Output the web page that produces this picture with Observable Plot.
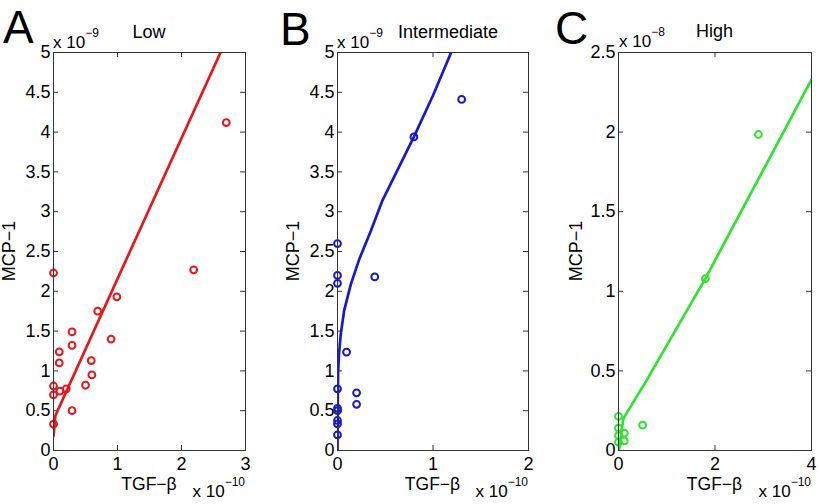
<!DOCTYPE html>
<html><head><meta charset="utf-8">
<script src="https://cdn.jsdelivr.net/npm/d3@7"></script>
<script src="https://cdn.jsdelivr.net/npm/@observablehq/plot@0.6"></script>
<style>
body{margin:0;background:#fff;}
#wrap{position:relative;width:820px;height:504px;overflow:hidden;font-family:"Liberation Sans",Arial,sans-serif;background:#fff;}
#wrap > svg{position:absolute;top:0;}
</style></head><body><div id="wrap"></div>
<script>
// Values in displayed units: TGF-beta in 1e-10, MCP-1 in 1e-9 (Low, Intermediate) and 1e-8 (High)
const panelTitles = ["Low", "Intermediate", "High"];
const panelLetters = ["A", "B", "C"];
const yExponents = ["−9", "−9", "−8"];
const xExponent = "−10";

const lowXTicks = [0, 1, 2, 3];
const lowYTicks = [0, 0.5, 1, 1.5, 2, 2.5, 3, 3.5, 4, 4.5, 5];
const lowTGF = [0, 0, 0, 0, 0.09, 0.09, 0.1, 0.2, 0.29, 0.29, 0.29, 0.5, 0.59, 0.6, 0.69, 0.9, 0.99, 2.19, 2.7];
const lowMCP = [2.23, 0.81, 0.70, 0.33, 1.24, 1.10, 0.745, 0.775, 1.49, 1.32, 0.50, 0.82, 1.13, 0.95, 1.75, 1.40, 1.93, 2.27, 4.12];
const lowFitTGF = [0, 0.03, 1.2, 2.61];
const lowFitMCP = [0.18, 0.44, 2.51, 5.0];

const midXTicks = [0, 1, 2];
const midYTicks = [0, 0.5, 1, 1.5, 2, 2.5, 3, 3.5, 4, 4.5, 5];
const midTGF = [0, 0, 0, 0, 0, 0, 0, 0, 0, 0.095, 0.2, 0.2, 0.39, 0.8, 1.3];
const midMCP = [2.60, 2.20, 2.10, 0.775, 0.53, 0.50, 0.377, 0.335, 0.197, 1.235, 0.725, 0.58, 2.18, 3.94, 4.41];
const midFitTGF = [0, 0.002, 0.006, 0.015, 0.035, 0.07, 0.14, 0.23, 0.35, 0.47, 0.8, 1.0, 1.19];
const midFitMCP = [0, 0.5, 0.96, 1.2, 1.47, 1.76, 2.09, 2.41, 2.76, 3.14, 3.94, 4.46, 5.0];

const highXTicks = [0, 2, 4];
const highYTicks = [0, 0.5, 1, 1.5, 2, 2.5];
const highTGF = [0, 0, 0, 0, 0.12, 0.12, 0.5, 1.8, 2.9];
const highMCP = [0.214, 0.14, 0.094, 0.053, 0.109, 0.06, 0.159, 1.08, 1.985];
const highFitTGF = [0.015, 0.1, 0.6, 1.8, 4.0];
const highFitMCP = [0.01, 0.2, 0.45, 1.08, 2.33];

const colors = ["#e8161a", "#1818cc", "#2ee42e"];

const zip = (xs, ys) => xs.map((x, i) => ({x, y: ys[i]}));
const FONT = '"Liberation Sans", Arial, sans-serif';
const wrap = document.getElementById("wrap");

function panel({left, width, ml, mr, xTicks, yTicks, pts, fit, color}) {
  const H = 504, mt = 52, mb = 54;
  const fw = width - ml - mr, fh = H - mt - mb, tl = 5;
  const frameColor = "#333";
  const chart = Plot.plot({
    width, height: H, marginLeft: ml, marginRight: mr, marginTop: mt, marginBottom: mb,
    x: {domain: [xTicks[0], xTicks[xTicks.length - 1]], label: null},
    y: {domain: [0, yTicks[yTicks.length - 1]], label: null},
    style: {fontFamily: FONT, fontSize: "18px", color: "#000", background: "transparent", overflow: "visible"},
    marks: [
      Plot.tickY(yTicks, {y: d => d, insetRight: fw - tl, stroke: frameColor}),
      Plot.tickY(yTicks, {y: d => d, insetLeft: fw - tl, stroke: frameColor}),
      Plot.tickX(xTicks, {x: d => d, insetTop: fh - tl, stroke: frameColor}),
      Plot.tickX(xTicks, {x: d => d, insetBottom: fh - tl, stroke: frameColor}),
      Plot.axisY(yTicks, {tickSize: 0, tickPadding: 3, tickFormat: d => String(d), label: null, fontSize: 18, fill: "#000"}),
      Plot.axisX(xTicks, {tickSize: 0, tickPadding: 7, tickFormat: d => String(d), label: null, fontSize: 18, fill: "#000"}),
      Plot.line(fit, {x: "x", y: "y", stroke: color, strokeWidth: 2.7, clip: true}),
      Plot.dot(pts, {x: "x", y: "y", r: 3.4, stroke: color, strokeWidth: 2, fill: "none"}),
      Plot.frame({stroke: frameColor, strokeWidth: 1})
    ]
  });
  chart.style.left = left + "px";
  wrap.appendChild(chart);
}

panel({left: 0, width: 273, ml: 53, mr: 28, xTicks: lowXTicks, yTicks: lowYTicks,
  pts: zip(lowTGF, lowMCP), fit: zip(lowFitTGF, lowFitMCP), color: colors[0]});
panel({left: 273, width: 273, ml: 64, mr: 18, xTicks: midXTicks, yTicks: midYTicks,
  pts: zip(midTGF, midMCP), fit: zip(midFitTGF, midFitMCP), color: colors[1]});
panel({left: 546, width: 274, ml: 72, mr: 9, xTicks: highXTicks, yTicks: highYTicks,
  pts: zip(highTGF, highMCP), fit: zip(highFitTGF, highFitMCP), color: colors[2]});

// overlay text
const svg = d3.select(wrap).append("svg").attr("width", 820).attr("height", 504)
  .style("font-family", FONT).style("pointer-events", "none");

const letterPos = [[3, 43], [280, 45], [555, 44]];
const titlePos = [[149, 38], [448, 38], [714.5, 37]];
const yExpPos = [[53, 47.5], [337, 47.5], [619, 47]];
const frameRight = [245, 528, 811];
const frameCenter = [149, 432.5, 714.5];
const yLabelX = [15, 299, 582];

for (let i = 0; i < 3; i++) {
  svg.append("text").attr("x", letterPos[i][0]).attr("y", letterPos[i][1])
    .attr("font-size", 46).text(panelLetters[i]);
  svg.append("text").attr("x", titlePos[i][0]).attr("y", titlePos[i][1])
    .attr("font-size", 18).attr("text-anchor", "middle").text(panelTitles[i]);
  const ye = svg.append("text").attr("x", yExpPos[i][0]).attr("y", yExpPos[i][1]).attr("font-size", 17);
  ye.append("tspan").text("x 10");
  ye.append("tspan").attr("dy", -11).attr("font-size", 12).text(yExponents[i]);
  const xe = svg.append("text").attr("x", frameRight[i]).attr("y", 497).attr("font-size", 17).attr("text-anchor", "end");
  xe.append("tspan").text("x 10");
  xe.append("tspan").attr("dy", -11).attr("font-size", 12).text(xExponent);
  svg.append("text").attr("x", frameCenter[i]).attr("y", 490).attr("font-size", 17.5)
    .attr("text-anchor", "middle").text("TGF−β");
  svg.append("text").attr("transform", `translate(${yLabelX[i]},251) rotate(-90)`)
    .attr("font-size", 18).attr("text-anchor", "middle").text("MCP−1");
}
</script></body></html>
